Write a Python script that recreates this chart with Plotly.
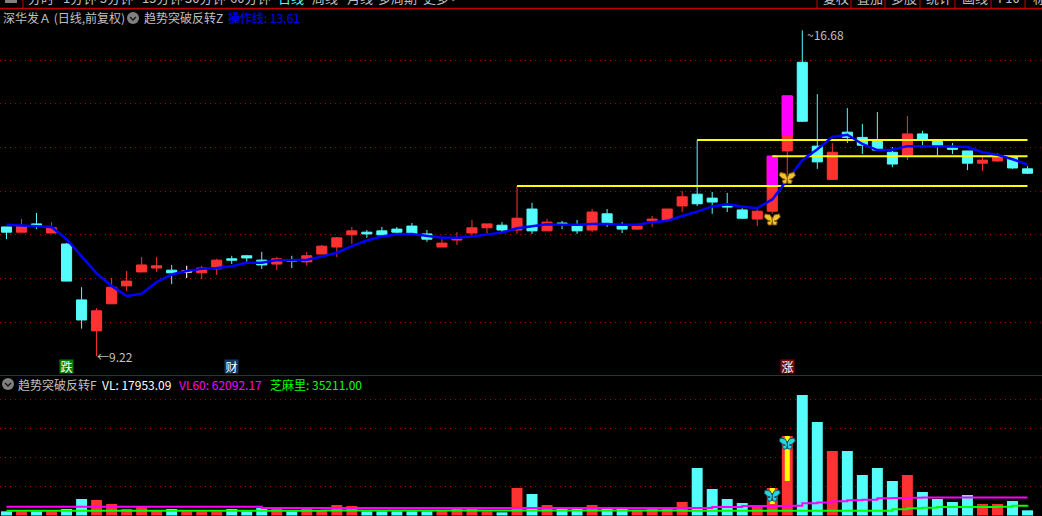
import plotly.graph_objects as go

# daily candles (red = close above open)
opens = [12.18, 12.06, 12.25, 12.04, 11.79, 10.51, 9.80, 10.42, 10.83, 11.15, 11.24, 11.19, 11.15, 11.13, 11.22,
         11.45, 11.52, 11.42, 11.33, 11.42, 11.38, 11.56, 11.72, 12.00, 12.06, 12.09, 12.13, 12.20, 12.02, 11.72,
         11.88, 12.04, 12.16, 12.22, 12.11, 12.59, 12.09, 12.27, 12.20, 12.11, 12.48, 12.20, 12.13, 12.32, 12.34,
         12.66, 12.93, 12.84, 12.66, 12.57, 12.36, 12.54, 13.92, 15.95, 14.03, 13.27, 14.35, 14.23, 14.17, 13.89,
         13.82, 14.31, 14.17, 13.99, 13.92, 13.64, 13.69, 13.78, 13.51]
highs = [12.18, 12.36, 12.50, 12.29, 11.81, 10.80, 10.32, 11.01, 11.17, 11.49, 11.49, 11.31, 11.29, 11.29, 11.45,
         11.52, 11.54, 11.61, 11.49, 11.52, 11.61, 11.77, 11.95, 12.18, 12.11, 12.18, 12.18, 12.27, 12.11, 11.90,
         12.06, 12.34, 12.25, 12.29, 13.12, 12.73, 12.36, 12.32, 12.34, 12.59, 12.59, 12.29, 12.20, 12.43, 12.59,
         13.00, 14.17, 12.98, 12.96, 12.61, 12.61, 13.80, 15.18, 16.68, 15.22, 14.10, 14.90, 14.54, 14.81, 14.01,
         14.72, 14.38, 14.17, 14.10, 13.92, 13.80, 13.87, 13.78, 13.57]
lows = [11.90, 12.06, 12.13, 12.04, 10.94, 9.85, 9.22, 10.42, 10.71, 11.15, 11.15, 10.87, 11.01, 10.99, 11.08,
        11.33, 11.38, 11.22, 11.19, 11.24, 11.29, 11.56, 11.49, 11.79, 11.93, 11.97, 12.02, 12.00, 11.84, 11.72,
        11.77, 11.97, 12.02, 12.04, 12.02, 12.02, 12.09, 12.13, 12.02, 12.06, 12.18, 12.04, 12.11, 12.18, 12.34,
        12.52, 12.66, 12.48, 12.52, 12.36, 12.20, 12.48, 13.37, 14.58, 13.51, 13.27, 14.10, 13.85, 13.92, 13.55,
        13.71, 14.05, 13.82, 13.85, 13.48, 13.46, 13.67, 13.51, 13.39]
closes = [12.06, 12.20, 12.22, 12.16, 10.94, 10.05, 10.26, 10.80, 10.94, 11.31, 11.29, 11.13, 11.17, 11.24, 11.42,
          11.42, 11.47, 11.31, 11.45, 11.40, 11.52, 11.74, 11.93, 12.09, 12.02, 12.00, 12.06, 12.02, 11.90, 11.81,
          11.90, 12.16, 12.25, 12.11, 12.38, 12.09, 12.29, 12.25, 12.09, 12.52, 12.27, 12.13, 12.20, 12.36, 12.59,
          12.87, 12.71, 12.75, 12.64, 12.38, 12.54, 13.80, 15.18, 14.60, 13.67, 13.89, 14.23, 14.05, 13.94, 13.62,
          14.31, 14.17, 14.03, 13.96, 13.64, 13.71, 13.78, 13.53, 13.41]

# 操作线
op_line = [12.23, 12.21, 12.19, 12.18, 11.90, 11.50, 11.12, 10.83, 10.60, 10.65, 10.92, 11.09, 11.17, 11.22, 11.24,
           11.28, 11.36, 11.36, 11.42, 11.42, 11.43, 11.50, 11.59, 11.74, 11.87, 11.96, 12.01, 12.02, 11.98, 11.93,
           11.93, 11.96, 12.01, 12.05, 12.15, 12.20, 12.24, 12.23, 12.23, 12.25, 12.25, 12.23, 12.23, 12.29, 12.32,
           12.43, 12.53, 12.65, 12.70, 12.65, 12.61, 12.81, 13.27, 13.71, 13.96, 14.24, 14.29, 14.08, 13.94, 13.95,
           14.03, 14.03, 14.02, 14.02, 14.01, 13.89, 13.83, 13.73, 13.61]

# the one white doji and the two magenta breakout bodies
doji_days = [12]
boost_days = [51, 52]
boost_low = [13.12, 14.28]
boost_high = [13.80, 15.18]

# yellow resistance lines: start day, price
level_start = [46, 51, 34]
level_price = [14.17, 13.80, 13.12]

signal_days = [51, 52]
signal_price = [12.34, 13.29]
signal_vol = [67000, 246500]
flag_days = [4, 15, 52]
flag_text = ['跌', '财', '涨']
flag_bg = ['#0a7a0a', '#0d3a66', '#7a0a0a']

volume = [14500, 14500, 14500, 14500, 22400, 56900, 53400, 39700, 22400, 32800, 19000, 22400, 14500, 14500, 14500,
          22400, 14500, 25900, 22400, 14500, 22400, 19000, 36200, 32800, 14500, 14500, 14500, 14500, 14500, 19000,
          22400, 22400, 14500, 11000, 94800, 74100, 36200, 22400, 22400, 36200, 22400, 22400, 19000, 22400, 22400,
          46600, 163800, 91400, 56900, 43100, 36200, 94800, 274100, 415500, 322400, 222400, 222400, 139700, 163800,
          119000, 139700, 81000, 56900, 46600, 70700, 39700, 39700, 50000, 17953.09]
vl60 = [30500] * 17 + [25900] * 30 + [29300, 29300, 32800, 32800, 32800, 34000, 41900, 45000, 48800, 52300, 54600,
                                       59200, 60300, 61500, 62092, 62092, 62092, 62092, 62092, 62092, 62092, 62092.17]
zhima = [16700] * 21 + [17500] * 24 + [16700] * 14 + [21300, 24700, 27000, 29300, 29300, 29300, 29300, 30500, 34000,
                                                      35211]
vol_mark_days = [51, 52]
vol_mark_low = [39700, 119000]
vol_mark_high = [94800, 274100]

tabs = ['分时', '1分钟', '5分钟', '15分钟', '30分钟', '60分钟', '日线', '周线', '月线', '多周期', '更多 >']
tab_px = [28, 63, 100, 142, 185, 230, 278, 312, 347, 378, 423]
right_tabs = ['复权', '叠加', '多股', '统计', '画线', 'F10', '标']
right_px = [823, 857, 891, 926, 962, 998, 1033]
tab_lines = [23, 817, 851, 885, 920, 955, 991, 1025]

W, H = 1042, 516
RED = '#ff3232'
CYAN = '#54fcfc'
FONT = 'Noto Sans CJK SC'
days = list(range(len(closes)))

# butterfly outline, pixels around its centre
BUTTERFLY = ('M 0 1 L -2 5 L -7 6 L -8 3 L -5 0 L -2 -1 L -5 -2 L -4 -5 L -1 -5 L 0 -2 '
             'L 1 -5 L 4 -5 L 5 -2 L 2 -1 L 5 0 L 8 3 L 7 6 L 2 5 Z M 0 3 L 0 -5')


def label(text, px, py, color, size=12):
    return dict(text=text, x=px / W, y=1 - py / H, xref='paper', yref='paper', xanchor='left', yanchor='middle',
                xshift=-2, showarrow=False, font=dict(family=FONT, size=size, color=color))


def butterfly(day, value, xref, yref, fill, edge):
    return dict(type='path', xref=xref, yref=yref, xsizemode='pixel', ysizemode='pixel', xanchor=day, yanchor=value,
                path=BUTTERFLY, fillcolor=fill, line=dict(color=edge, width=1))


fig = go.Figure()

fig.add_trace(go.Candlestick(x=days, open=opens, high=highs, low=lows, close=closes, whiskerwidth=0,
                             increasing=dict(line=dict(color=RED, width=1), fillcolor=RED),
                             decreasing=dict(line=dict(color=CYAN, width=1), fillcolor=CYAN)))
fig.add_trace(go.Candlestick(x=doji_days, open=[closes[d] for d in doji_days], high=[highs[d] for d in doji_days],
                             low=[lows[d] for d in doji_days], close=[opens[d] for d in doji_days], whiskerwidth=0,
                             decreasing=dict(line=dict(color='white', width=1), fillcolor='white'),
                             increasing=dict(line=dict(color='white', width=1), fillcolor='white')))
fig.add_trace(go.Candlestick(x=boost_days, open=boost_low, high=boost_high, low=boost_low, close=boost_high,
                             whiskerwidth=0, increasing=dict(line=dict(color='#ff00ff', width=1), fillcolor='#ff00ff')))

for start, price in zip(level_start, level_price):
    fig.add_trace(go.Scatter(x=[start, days[-1]], y=[price, price], mode='lines',
                             line=dict(color='#ffff00', width=2)))
fig.add_trace(go.Scatter(x=days, y=op_line, mode='lines', line=dict(color='#0000ff', width=2.5)))

# lower panel
vol_colors = [RED if c >= o else CYAN for o, c in zip(opens, closes)]
fig.add_trace(go.Bar(x=days, y=volume, width=0.73, marker=dict(color=vol_colors, line=dict(width=0)),
                     xaxis='x2', yaxis='y2'))
fig.add_trace(go.Bar(x=vol_mark_days, y=[h - l for h, l in zip(vol_mark_high, vol_mark_low)], base=vol_mark_low,
                     width=0.33, marker=dict(color='#ffff00', line=dict(width=0)), xaxis='x2', yaxis='y2'))
fig.add_trace(go.Scatter(x=days, y=zhima, mode='lines', line=dict(color='#00ff00', width=2, shape='hv'),
                         xaxis='x2', yaxis='y2'))
fig.add_trace(go.Scatter(x=days, y=vl60, mode='lines', line=dict(color='#ff00ff', width=2, shape='hv'),
                         xaxis='x2', yaxis='y2'))

notes = [
    label('深华发Ａ (日线,前复权)', 3, 18, '#c0c0c0'),
    label('趋势突破反转Z', 144, 18, '#c0c0c0'),
    label('操作线: 13.61', 228, 18, '#0000ff'),
    label('趋势突破反转F', 18, 384, '#c0c0c0'),
    label('VL: 17953.09', 102, 384, '#ffffff'),
    label('VL60: 62092.17', 179, 384, '#ff00ff'),
    label('芝麻里: 35211.00', 270, 384, '#00ff00'),
]
for t, px in zip(tabs, tab_px):
    notes.append(label(t, px, -2.5, '#54fcfc' if t == '日线' else '#c0c0c0', 13))
for t, px in zip(right_tabs, right_px):
    notes.append(label(t, px, -2.5, '#c0c0c0', 13))

# highest and lowest price tags
low_day = lows.index(min(lows))
high_day = highs.index(max(highs))
notes.append(dict(text='←%.2f' % lows[low_day], x=low_day, y=lows[low_day], xref='x', yref='y', xanchor='left',
                  yanchor='middle', xshift=-2, showarrow=False, font=dict(family=FONT, size=12, color='#c0c0c0')))
notes.append(dict(text='~%.2f' % highs[high_day], x=high_day, y=highs[high_day] - 0.1, xref='x', yref='y',
                  xanchor='left', yanchor='middle', xshift=3, showarrow=False,
                  font=dict(family=FONT, size=12, color='#c0c0c0')))
for d, t, bg in zip(flag_days, flag_text, flag_bg):
    notes.append(dict(text=t, x=d, y=8.98, xref='x', yref='y', showarrow=False, width=13, height=13, borderpad=0,
                      bgcolor=bg, font=dict(family=FONT, size=12, color='white')))

shapes = [
    dict(type='line', xref='paper', yref='paper', x0=0, x1=1, y0=1 - 8.5 / H, y1=1 - 8.5 / H,
         line=dict(color='#c00000', width=1.5)),
    dict(type='line', xref='paper', yref='paper', x0=0, x1=1, y0=1 - 375.5 / H, y1=1 - 375.5 / H,
         line=dict(color='#a00000', width=1)),
    # bottom of the window icon in the tab bar
    dict(type='rect', xref='paper', yref='paper', x0=5 / W, x1=17 / W, y0=1 - 3 / H, y1=1,
         fillcolor='#808080', line=dict(width=0)),
]
for px in tab_lines:
    shapes.append(dict(type='line', xref='paper', yref='paper', x0=px / W, x1=px / W, y0=1 - 8 / H, y1=1,
                       line=dict(color='#c00000', width=1)))
for cx, cy in [(133, 18), (8, 384)]:
    shapes.append(dict(type='circle', xref='paper', yref='paper', x0=(cx - 6) / W, x1=(cx + 6) / W,
                       y0=1 - (cy + 6) / H, y1=1 - (cy - 6) / H, fillcolor='#808080', line=dict(width=0)))
    shapes.append(dict(type='path', xref='paper', yref='paper',
                       path='M %f %f L %f %f L %f %f' % ((cx - 3) / W, 1 - (cy - 1) / H, cx / W, 1 - (cy + 2) / H,
                                                         (cx + 3) / W, 1 - (cy - 1) / H),
                       line=dict(color='#1a1a1a', width=1.5)))
for day, price, vol in zip(signal_days, signal_price, signal_vol):
    shapes.append(butterfly(day, price, 'x', 'y', '#f2c230', '#8a6000'))
    shapes.append(butterfly(day, vol, 'x2', 'y2', '#2fd0e0', '#0a5a60'))

GRID = dict(showgrid=True, gridcolor='#a00000', gridwidth=1, griddash='1px,4px', zeroline=False,
            showline=False, showticklabels=False, ticks='')

fig.update_layout(
    width=W, height=H, autosize=False,
    margin=dict(l=0, r=0, t=0, b=0),
    paper_bgcolor='black', plot_bgcolor='black',
    showlegend=False, barmode='overlay', boxmode='overlay', boxgap=0.3, boxgroupgap=0.04,
    xaxis=dict(range=[-0.433, 68.965], domain=[0, 1], visible=False, rangeslider=dict(visible=False)),
    xaxis2=dict(range=[-0.433, 68.965], domain=[0, 1], visible=False, anchor='y2'),
    yaxis=dict(range=[8.79, 17.17], domain=[141 / H, 507 / H], tickvals=[10, 11, 12, 13, 14, 15, 16], **GRID),
    yaxis2=dict(range=[-1724, 481034], domain=[0, 140 / H], tickvals=[100000, 200000, 300000, 400000],
                anchor='x2', **GRID),
    annotations=notes,
    shapes=shapes,
)

# the page's default body margin would push the chart 8px in
fig.write_html("out.html", config={'displayModeBar': False},
               post_script="document.body.style.margin='0';document.body.style.background='black';"
                           "document.body.style.overflow='hidden';")
